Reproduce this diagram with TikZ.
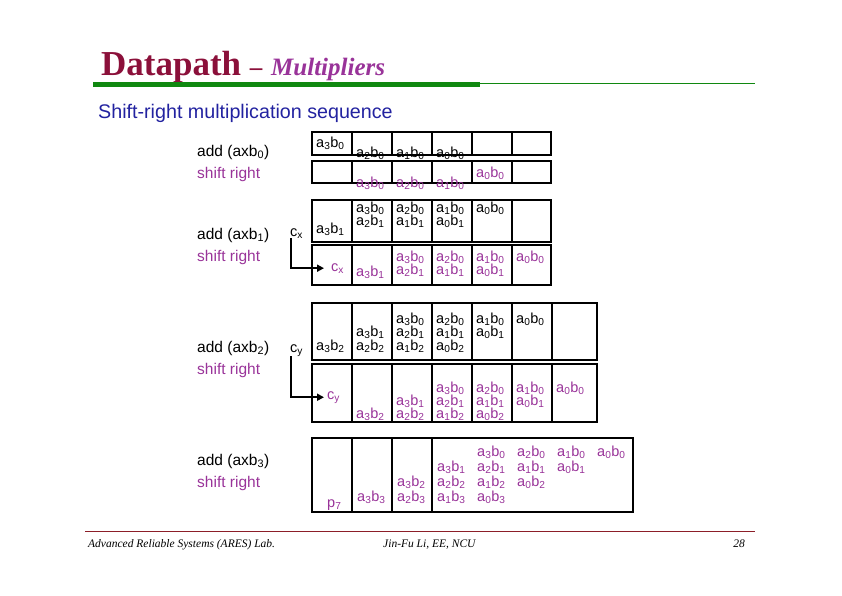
\documentclass[tikz,border=0pt]{standalone}
\usepackage{fontspec}
\setmainfont{Liberation Serif}
\setsansfont{Liberation Sans}
\usepackage{xcolor}
\usetikzlibrary{arrows.meta}

\definecolor{titlered}{RGB}{139,16,58}
\definecolor{lilac}{RGB}{153,51,153}
\definecolor{navy}{RGB}{34,34,160}
\definecolor{rulegreen}{RGB}{16,136,16}
\definecolor{footred}{RGB}{140,30,40}

\newcommand{\ab}[2]{a\textsubscript{#1}b\textsubscript{#2}}

\tikzset{
  term/.style={font=\sffamily\fontsize{14.5}{16}\selectfont, inner sep=0pt, anchor=base west},
  shifted/.style={term, text=lilac},
  steplabel/.style={font=\sffamily\fontsize{15.5}{18}\selectfont, inner sep=0pt, anchor=base west},
  reg/.style={line width=2.6pt, fill=white},
  carry/.style={line width=2pt, -{Triangle[length=7pt,width=7pt]}},
  foot/.style={font=\itshape\fontsize{11.5}{13}\selectfont, inner sep=0pt, anchor=base west}
}

\begin{document}
\begin{tikzpicture}[x=1pt,y=-1pt]
  \useasboundingbox (0,0) rectangle (842,595);

  % Title
  \node[anchor=base west, inner sep=0pt, text=titlered, font=\bfseries\fontsize{35}{40}\selectfont] (title) at (101,75)
    {Datapath {\fontsize{25}{28}\selectfont –} {\fontsize{25}{28}\selectfont\itshape\color{lilac}Multipliers}};
  \draw[rulegreen, line width=5pt] (93,84.5) -- (480,84.5);
  \draw[rulegreen, line width=1pt] (480,83) -- (755,83);
  \node[anchor=base west, inner sep=0pt, text=navy, font=\sffamily\fontsize{19.7}{22}\selectfont] (subtitle) at (98,118)
    {Shift-right multiplication sequence};

  % Steps
  \foreach \k/\y in {0/156,1/239,2/352,3/465} {
    \node[steplabel] (add\k) at (197,\y) {add (axb\textsubscript{\k})};
    \node[steplabel, text=lilac] (shift\k) at (197,{\y+22}) {shift right};
  }

  % add (axb0)
  \draw[reg] (312,132) rectangle (551,155);
  \foreach \x in {352,392,...,512}
    \draw[reg] (\x,132) -- (\x,155);
  \node[term] (p1-30) at (316,147) {\ab{3}{0}};
  \foreach \i in {2,1,0}
    \node[term] (p1-\i0) at ({316+40*(3-\i)},157) {\ab{\i}{0}};

  % shift right
  \draw[reg] (312,161) rectangle (551,183);
  \foreach \x in {352,392,...,512}
    \draw[reg] (\x,161) -- (\x,183);
  \foreach \i in {3,2,1}
    \node[shifted] (q1-\i0) at ({316+40*(4-\i)},187) {\ab{\i}{0}};
  \node[shifted] (q1-00) at (476,177) {\ab{0}{0}};

  % add (axb1)
  \draw[reg] (312,200) rectangle (551,242);
  \foreach \x in {352,392,...,512}
    \draw[reg] (\x,200) -- (\x,242);
  \foreach \i in {3,2,1,0}
    \node[term] (p2-\i0) at ({316+40*(4-\i)},212) {\ab{\i}{0}};
  \foreach \i in {2,1,0}
    \node[term] (p2-\i1) at ({316+40*(3-\i)},225) {\ab{\i}{1}};
  \node[term] (p2-31) at (316,233) {\ab{3}{1}};
  \node[term] (cx1) at (290,236) {c\textsubscript{x}};

  % shift right
  \draw[reg] (312,245) rectangle (551,285);
  \foreach \x in {352,392,...,512}
    \draw[reg] (\x,245) -- (\x,285);
  \foreach \i in {3,2,1,0}
    \node[shifted] (q2-\i0) at ({316+40*(5-\i)},261) {\ab{\i}{0}};
  \foreach \i in {2,1,0}
    \node[shifted] (q2-\i1) at ({316+40*(4-\i)},274) {\ab{\i}{1}};
  \node[shifted] (q2-31) at (356,276) {\ab{3}{1}};
  \node[shifted] (cx2) at (331,271) {c\textsubscript{x}};
  \draw[carry] ([xshift=1pt]cx1.south west) |- ([xshift=-7pt]cx2.west);

  % add (axb2)
  \draw[reg] (312,303) rectangle (597,360);
  \foreach \x in {352,392,...,552}
    \draw[reg] (\x,303) -- (\x,360);
  \foreach \k in {0,1,2}
    \foreach \i in {3,2,1,0}
      \node[term] (p3-\i\k) at ({316+40*(5-\i-\k)},{323+13.5*\k}) {\ab{\i}{\k}};
  \node[term] (cy1) at (290,352) {c\textsubscript{y}};

  % shift right
  \draw[reg] (312,364) rectangle (597,422);
  \foreach \x in {352,392,...,552}
    \draw[reg] (\x,364) -- (\x,422);
  \foreach \k in {0,1,2}
    \foreach \i in {3,2,1,0}
      \node[shifted] (q3-\i\k) at ({316+40*(6-\i-\k)},{392+13*\k}) {\ab{\i}{\k}};
  \node[shifted] (cy2) at (327,399) {c\textsubscript{y}};
  \draw[carry] ([xshift=1pt]cy1.south west) |- ([xshift=-3pt]cy2.west);

  % add (axb3), shift right
  \draw[reg] (312,438) rectangle (633,512);
  \foreach \x in {352,392,432}
    \draw[reg] (\x,438) -- (\x,512);
  \foreach \k in {0,1,2,3}
    \foreach \i in {3,2,1,0}
      \node[shifted] (q4-\i\k) at ({597-40*(\i+\k)},{456+15*\k}) {\ab{\i}{\k}};
  \node[shifted] (p7) at (327,507) {p\textsubscript{7}};

  % Footer
  \draw[footred, line width=0.8pt] (85,531) -- (755,531);
  \node[foot] (lab) at (88,547) {Advanced Reliable Systems (ARES) Lab.};
  \node[foot] (auth) at (383,547) {Jin-Fu Li, EE, NCU};
  \node[foot, anchor=base east] (page) at (745,547) {28};
\end{tikzpicture}
\end{document}
